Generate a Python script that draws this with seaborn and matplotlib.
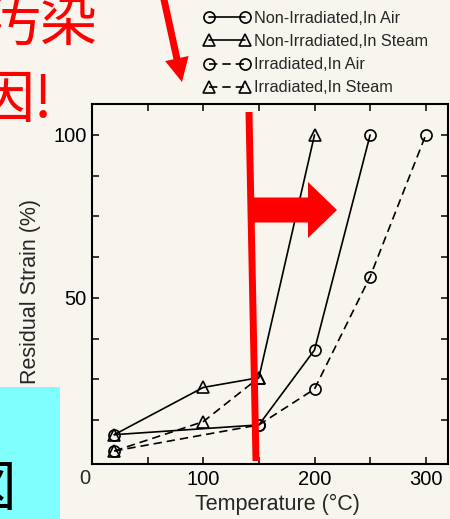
import matplotlib
matplotlib.use("Agg")
import matplotlib.pyplot as plt
import seaborn as sns
from matplotlib.patches import FancyArrow, Rectangle
from matplotlib.lines import Line2D
from matplotlib.transforms import IdentityTransform

# data
temp_nonirr_air = [20, 150, 200, 250]
strain_nonirr_air = [8, 11, 34, 100]
temp_nonirr_steam = [20, 100, 150, 200]
strain_nonirr_steam = [8, 22.5, 25.5, 100]
temp_irr_air = [20, 150, 200, 250, 300]
strain_irr_air = [3, 11, 22, 56.5, 100]
temp_irr_steam = [20, 100, 150]
strain_irr_steam = [3, 12, 25.5]

labels = ["Non-Irradiated,In Air", "Non-Irradiated,In Steam",
          "Irradiated,In Air", "Irradiated,In Steam"]
xticks = [100, 200, 300]
yticks = [50, 100]

paper = "#f7f5ee"
red = "#ff0000"

sns.set_theme(style="ticks")
plt.rcParams["font.family"] = ["Liberation Sans", "Noto Sans CJK JP", "DejaVu Sans"]

W, H = 450, 519
fig = plt.figure(figsize=(W / 100, H / 100), dpi=100, facecolor=paper)
ax = fig.add_axes([92 / W, 55 / H, 356 / W, 360 / H], facecolor=paper)

common = dict(ax=ax, color="black", linewidth=1.2, markersize=8,
              markerfacecolor="none", markeredgecolor="black",
              markeredgewidth=1.2, errorbar=None)
dash = (0, (5, 3))
sns.lineplot(x=temp_nonirr_air, y=strain_nonirr_air, marker="o",
             linestyle="-", label=labels[0], **common)
sns.lineplot(x=temp_nonirr_steam, y=strain_nonirr_steam, marker="^",
             linestyle="-", label=labels[1], **common)
sns.lineplot(x=temp_irr_air, y=strain_irr_air, marker="o",
             linestyle=dash, label=labels[2], **common)
sns.lineplot(x=temp_irr_steam, y=strain_irr_steam, marker="^",
             linestyle=dash, label=labels[3], **common)

ax.set_xlim(0, 320)
ax.set_ylim(-1, 109.5)
ax.set_xticks(xticks)
ax.set_xticks([50, 150, 250], minor=True)
ax.set_yticks(yticks)
ax.set_yticks([12.5, 25, 37.5, 62.5, 75, 87.5], minor=True)
ax.tick_params(which="both", direction="in", length=5, width=1.1,
               top=True, right=True, colors="black", labelsize=14.5, pad=4)
for s in ax.spines.values():
    s.set_color("black")
    s.set_linewidth(1.5)

ax.set_xlabel("Temperature (°C)", fontsize=15.5)
ax.set_ylabel("Residual Strain (%)", fontsize=15.5)
ax.xaxis.set_label_coords(0.52, -0.083)
ax.yaxis.set_label_coords(-0.142, 0.48)
fig.text(85 / W, 1 - 478 / H, "0", ha="center", va="center", fontsize=14.5)

handles, labs = ax.get_legend_handles_labels()
ax.get_legend().remove()
fig.legend(handles, labs, loc="upper left", bbox_to_anchor=(204 / W, 1 - 11 / H),
           frameon=False, fontsize=11.7, numpoints=2, handlelength=2.8,
           handletextpad=0.3, labelspacing=0.5, borderpad=0, borderaxespad=0)

# overlays
px = IdentityTransform()
fig.add_artist(Rectangle((0, 0), 60, H - 387, transform=px,
                         facecolor="#80ffff", edgecolor="none"))
fig.text(16 / W, 1 - 490 / H, "図", ha="right", va="center", fontsize=40,
         color="black", family=["Noto Sans CJK JP"])
fig.text(98 / W, 1 - 24 / H, "汚染", ha="right", va="center", fontsize=41,
         color=red, family=["Noto Sans CJK JP"])
fig.text(53 / W, 1 - 101 / H, "因!", ha="right", va="center", fontsize=41,
         color=red, family=["Noto Sans CJK JP"])
fig.add_artist(FancyArrow(163, H + 5, 19, -87, width=7, head_width=24,
                          head_length=24, length_includes_head=True,
                          transform=px, color=red, linewidth=0))
fig.add_artist(Line2D([249, 256], [H - 112, H - 461], transform=px,
                      color=red, linewidth=5, solid_capstyle="butt"))
fig.add_artist(FancyArrow(250, H - 210, 87, 0, width=25, head_width=56,
                          head_length=29, length_includes_head=True,
                          transform=px, color=red, linewidth=0))

fig.savefig("out.png", dpi=100, facecolor=paper)
